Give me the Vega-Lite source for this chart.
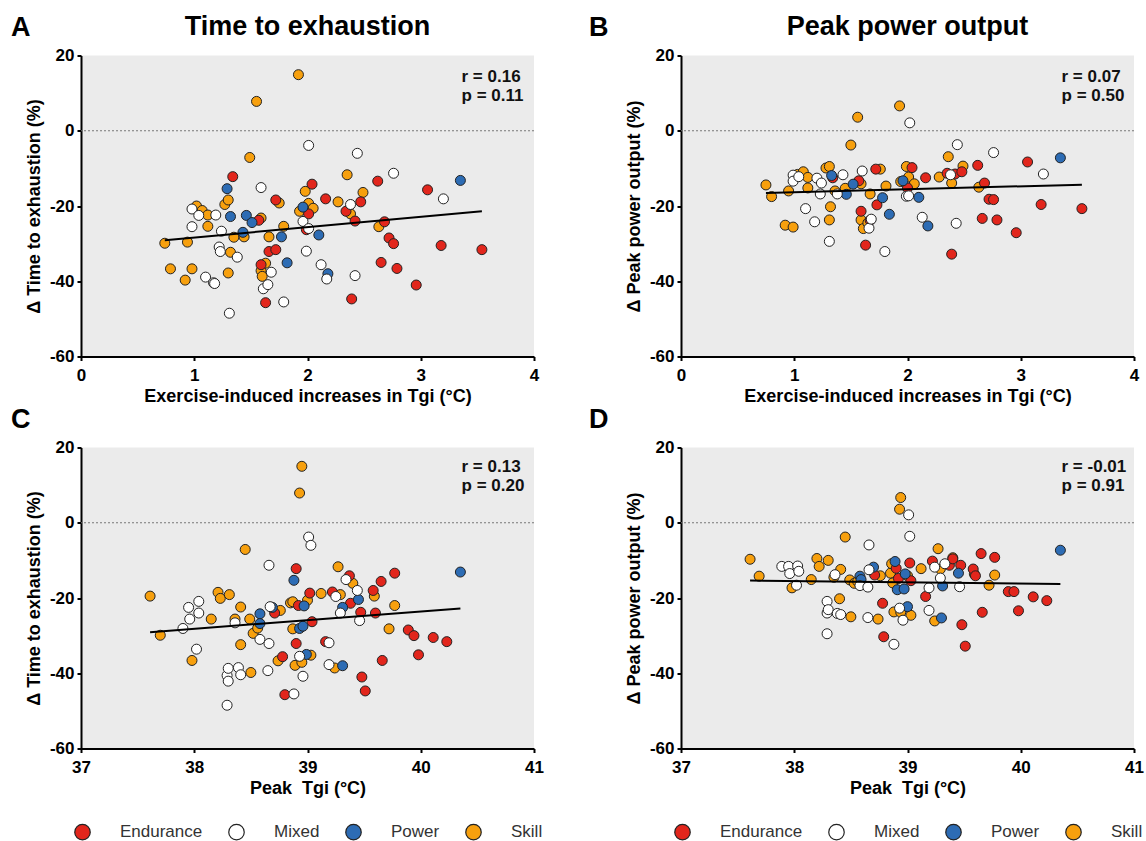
{
  "$schema": "https://vega.github.io/schema/vega-lite/v6.json",
  "background": "white",
  "padding": {"left": 11, "top": 12.5, "right": 12, "bottom": 2},
  "datasets": {
    "A": [
      {"sport": "Skill", "tgi_rise": 0.74, "tte_change": -29.9}, {"sport": "Skill", "tgi_rise": 0.79, "tte_change": -36.7}, {"sport": "Skill", "tgi_rise": 0.92, "tte_change": -39.7}, {"sport": "Skill", "tgi_rise": 0.94, "tte_change": -29.6}, {"sport": "Skill", "tgi_rise": 0.98, "tte_change": -36.7}, {"sport": "Skill", "tgi_rise": 1.02, "tte_change": -20.0}, {"sport": "Skill", "tgi_rise": 1.07, "tte_change": -21.2}, {"sport": "Skill", "tgi_rise": 1.12, "tte_change": -22.4}, {"sport": "Skill", "tgi_rise": 1.12, "tte_change": -25.4}, {"sport": "Skill", "tgi_rise": 1.27, "tte_change": -19.6}, {"sport": "Skill", "tgi_rise": 1.30, "tte_change": -18.4}, {"sport": "Skill", "tgi_rise": 1.30, "tte_change": -37.8}, {"sport": "Skill", "tgi_rise": 1.32, "tte_change": -32.3}, {"sport": "Skill", "tgi_rise": 1.35, "tte_change": -28.3}, {"sport": "Skill", "tgi_rise": 1.44, "tte_change": -28.2}, {"sport": "Skill", "tgi_rise": 1.49, "tte_change": -7.1}, {"sport": "Skill", "tgi_rise": 1.55, "tte_change": 7.8}, {"sport": "Skill", "tgi_rise": 1.59, "tte_change": -23.2}, {"sport": "Skill", "tgi_rise": 1.59, "tte_change": -37.2}, {"sport": "Skill", "tgi_rise": 1.60, "tte_change": -38.7}, {"sport": "Skill", "tgi_rise": 1.63, "tte_change": -35.2}, {"sport": "Skill", "tgi_rise": 1.66, "tte_change": -28.2}, {"sport": "Skill", "tgi_rise": 1.75, "tte_change": -19.2}, {"sport": "Skill", "tgi_rise": 1.79, "tte_change": -25.4}, {"sport": "Skill", "tgi_rise": 1.92, "tte_change": 14.9}, {"sport": "Skill", "tgi_rise": 1.93, "tte_change": -21.4}, {"sport": "Skill", "tgi_rise": 1.98, "tte_change": -16.1}, {"sport": "Skill", "tgi_rise": 2.01, "tte_change": -19.3}, {"sport": "Skill", "tgi_rise": 2.05, "tte_change": -20.6}, {"sport": "Skill", "tgi_rise": 2.27, "tte_change": -18.9}, {"sport": "Skill", "tgi_rise": 2.35, "tte_change": -11.7}, {"sport": "Skill", "tgi_rise": 2.38, "tte_change": -22.1}, {"sport": "Skill", "tgi_rise": 2.49, "tte_change": -16.4}, {"sport": "Skill", "tgi_rise": 2.63, "tte_change": -25.5},
      {"sport": "Endurance", "tgi_rise": 1.34, "tte_change": -12.2}, {"sport": "Endurance", "tgi_rise": 1.57, "tte_change": -23.8}, {"sport": "Endurance", "tgi_rise": 1.59, "tte_change": -35.6}, {"sport": "Endurance", "tgi_rise": 1.63, "tte_change": -45.7}, {"sport": "Endurance", "tgi_rise": 1.66, "tte_change": -32.1}, {"sport": "Endurance", "tgi_rise": 1.72, "tte_change": -31.6}, {"sport": "Endurance", "tgi_rise": 1.72, "tte_change": -18.4}, {"sport": "Endurance", "tgi_rise": 1.99, "tte_change": -26.3}, {"sport": "Endurance", "tgi_rise": 2.01, "tte_change": -22.1}, {"sport": "Endurance", "tgi_rise": 2.04, "tte_change": -14.2}, {"sport": "Endurance", "tgi_rise": 2.16, "tte_change": -18.1}, {"sport": "Endurance", "tgi_rise": 2.34, "tte_change": -21.4}, {"sport": "Endurance", "tgi_rise": 2.39, "tte_change": -44.7}, {"sport": "Endurance", "tgi_rise": 2.42, "tte_change": -24.0}, {"sport": "Endurance", "tgi_rise": 2.47, "tte_change": -18.9}, {"sport": "Endurance", "tgi_rise": 2.62, "tte_change": -13.4}, {"sport": "Endurance", "tgi_rise": 2.65, "tte_change": -35.0}, {"sport": "Endurance", "tgi_rise": 2.68, "tte_change": -24.2}, {"sport": "Endurance", "tgi_rise": 2.72, "tte_change": -28.5}, {"sport": "Endurance", "tgi_rise": 2.76, "tte_change": -30.0}, {"sport": "Endurance", "tgi_rise": 2.79, "tte_change": -36.6}, {"sport": "Endurance", "tgi_rise": 2.96, "tte_change": -41.0}, {"sport": "Endurance", "tgi_rise": 3.06, "tte_change": -15.7}, {"sport": "Endurance", "tgi_rise": 3.18, "tte_change": -30.5}, {"sport": "Endurance", "tgi_rise": 3.54, "tte_change": -31.6},
      {"sport": "Power", "tgi_rise": 1.29, "tte_change": -15.4}, {"sport": "Power", "tgi_rise": 1.32, "tte_change": -22.8}, {"sport": "Power", "tgi_rise": 1.43, "tte_change": -27.0}, {"sport": "Power", "tgi_rise": 1.46, "tte_change": -22.5}, {"sport": "Power", "tgi_rise": 1.51, "tte_change": -24.4}, {"sport": "Power", "tgi_rise": 1.77, "tte_change": -28.2}, {"sport": "Power", "tgi_rise": 1.82, "tte_change": -35.1}, {"sport": "Power", "tgi_rise": 1.96, "tte_change": -20.3}, {"sport": "Power", "tgi_rise": 2.10, "tte_change": -27.7}, {"sport": "Power", "tgi_rise": 2.18, "tte_change": -38.0}, {"sport": "Power", "tgi_rise": 3.35, "tte_change": -13.2},
      {"sport": "Mixed", "tgi_rise": 0.98, "tte_change": -20.8}, {"sport": "Mixed", "tgi_rise": 0.98, "tte_change": -25.5}, {"sport": "Mixed", "tgi_rise": 1.04, "tte_change": -22.5}, {"sport": "Mixed", "tgi_rise": 1.10, "tte_change": -38.9}, {"sport": "Mixed", "tgi_rise": 1.17, "tte_change": -40.4}, {"sport": "Mixed", "tgi_rise": 1.18, "tte_change": -40.6}, {"sport": "Mixed", "tgi_rise": 1.19, "tte_change": -22.4}, {"sport": "Mixed", "tgi_rise": 1.22, "tte_change": -30.9}, {"sport": "Mixed", "tgi_rise": 1.23, "tte_change": -32.1}, {"sport": "Mixed", "tgi_rise": 1.24, "tte_change": -26.7}, {"sport": "Mixed", "tgi_rise": 1.31, "tte_change": -48.5}, {"sport": "Mixed", "tgi_rise": 1.38, "tte_change": -33.6}, {"sport": "Mixed", "tgi_rise": 1.59, "tte_change": -15.1}, {"sport": "Mixed", "tgi_rise": 1.61, "tte_change": -42.0}, {"sport": "Mixed", "tgi_rise": 1.65, "tte_change": -40.9}, {"sport": "Mixed", "tgi_rise": 1.68, "tte_change": -37.6}, {"sport": "Mixed", "tgi_rise": 1.79, "tte_change": -45.5}, {"sport": "Mixed", "tgi_rise": 1.96, "tte_change": -24.1}, {"sport": "Mixed", "tgi_rise": 1.99, "tte_change": -32.0}, {"sport": "Mixed", "tgi_rise": 2.01, "tte_change": -3.9}, {"sport": "Mixed", "tgi_rise": 2.01, "tte_change": -26.0}, {"sport": "Mixed", "tgi_rise": 2.12, "tte_change": -35.6}, {"sport": "Mixed", "tgi_rise": 2.17, "tte_change": -39.4}, {"sport": "Mixed", "tgi_rise": 2.38, "tte_change": -19.6}, {"sport": "Mixed", "tgi_rise": 2.42, "tte_change": -38.5}, {"sport": "Mixed", "tgi_rise": 2.44, "tte_change": -6.0}, {"sport": "Mixed", "tgi_rise": 2.76, "tte_change": -11.3}, {"sport": "Mixed", "tgi_rise": 3.20, "tte_change": -18.1}
    ],
    "B": [
      {"sport": "Skill", "tgi_rise": 0.75, "ppo_change": -14.4}, {"sport": "Skill", "tgi_rise": 0.80, "ppo_change": -17.5}, {"sport": "Skill", "tgi_rise": 0.92, "ppo_change": -25.1}, {"sport": "Skill", "tgi_rise": 0.95, "ppo_change": -16.0}, {"sport": "Skill", "tgi_rise": 0.99, "ppo_change": -25.6}, {"sport": "Skill", "tgi_rise": 1.03, "ppo_change": -11.6}, {"sport": "Skill", "tgi_rise": 1.08, "ppo_change": -10.9}, {"sport": "Skill", "tgi_rise": 1.12, "ppo_change": -12.4}, {"sport": "Skill", "tgi_rise": 1.12, "ppo_change": -15.2}, {"sport": "Skill", "tgi_rise": 1.28, "ppo_change": -9.9}, {"sport": "Skill", "tgi_rise": 1.31, "ppo_change": -9.5}, {"sport": "Skill", "tgi_rise": 1.31, "ppo_change": -23.7}, {"sport": "Skill", "tgi_rise": 1.32, "ppo_change": -20.2}, {"sport": "Skill", "tgi_rise": 1.36, "ppo_change": -16.0}, {"sport": "Skill", "tgi_rise": 1.45, "ppo_change": -15.3}, {"sport": "Skill", "tgi_rise": 1.50, "ppo_change": -3.8}, {"sport": "Skill", "tgi_rise": 1.56, "ppo_change": 3.6}, {"sport": "Skill", "tgi_rise": 1.59, "ppo_change": -14.1}, {"sport": "Skill", "tgi_rise": 1.59, "ppo_change": -23.7}, {"sport": "Skill", "tgi_rise": 1.61, "ppo_change": -26.0}, {"sport": "Skill", "tgi_rise": 1.65, "ppo_change": -24.5}, {"sport": "Skill", "tgi_rise": 1.67, "ppo_change": -16.8}, {"sport": "Skill", "tgi_rise": 1.76, "ppo_change": -10.2}, {"sport": "Skill", "tgi_rise": 1.81, "ppo_change": -14.7}, {"sport": "Skill", "tgi_rise": 1.93, "ppo_change": 6.6}, {"sport": "Skill", "tgi_rise": 1.94, "ppo_change": -13.5}, {"sport": "Skill", "tgi_rise": 1.99, "ppo_change": -9.5}, {"sport": "Skill", "tgi_rise": 2.01, "ppo_change": -12.3}, {"sport": "Skill", "tgi_rise": 2.06, "ppo_change": -14.1}, {"sport": "Skill", "tgi_rise": 2.28, "ppo_change": -12.3}, {"sport": "Skill", "tgi_rise": 2.36, "ppo_change": -6.9}, {"sport": "Skill", "tgi_rise": 2.39, "ppo_change": -13.9}, {"sport": "Skill", "tgi_rise": 2.49, "ppo_change": -9.4}, {"sport": "Skill", "tgi_rise": 2.63, "ppo_change": -15.0},
      {"sport": "Endurance", "tgi_rise": 1.34, "ppo_change": -12.5}, {"sport": "Endurance", "tgi_rise": 1.57, "ppo_change": -13.3}, {"sport": "Endurance", "tgi_rise": 1.59, "ppo_change": -21.4}, {"sport": "Endurance", "tgi_rise": 1.63, "ppo_change": -30.4}, {"sport": "Endurance", "tgi_rise": 1.67, "ppo_change": -23.8}, {"sport": "Endurance", "tgi_rise": 1.72, "ppo_change": -10.2}, {"sport": "Endurance", "tgi_rise": 1.73, "ppo_change": -19.7}, {"sport": "Endurance", "tgi_rise": 2.00, "ppo_change": -15.2}, {"sport": "Endurance", "tgi_rise": 2.04, "ppo_change": -9.8}, {"sport": "Endurance", "tgi_rise": 2.16, "ppo_change": -12.5}, {"sport": "Endurance", "tgi_rise": 2.35, "ppo_change": -11.3}, {"sport": "Endurance", "tgi_rise": 2.39, "ppo_change": -32.8}, {"sport": "Endurance", "tgi_rise": 2.42, "ppo_change": -11.5}, {"sport": "Endurance", "tgi_rise": 2.48, "ppo_change": -10.9}, {"sport": "Endurance", "tgi_rise": 2.62, "ppo_change": -9.2}, {"sport": "Endurance", "tgi_rise": 2.66, "ppo_change": -23.3}, {"sport": "Endurance", "tgi_rise": 2.68, "ppo_change": -13.9}, {"sport": "Endurance", "tgi_rise": 2.72, "ppo_change": -18.2}, {"sport": "Endurance", "tgi_rise": 2.76, "ppo_change": -18.3}, {"sport": "Endurance", "tgi_rise": 2.79, "ppo_change": -23.7}, {"sport": "Endurance", "tgi_rise": 2.96, "ppo_change": -27.1}, {"sport": "Endurance", "tgi_rise": 3.06, "ppo_change": -8.3}, {"sport": "Endurance", "tgi_rise": 3.18, "ppo_change": -19.6}, {"sport": "Endurance", "tgi_rise": 3.54, "ppo_change": -20.7},
      {"sport": "Power", "tgi_rise": 1.33, "ppo_change": -11.9}, {"sport": "Power", "tgi_rise": 1.46, "ppo_change": -16.9}, {"sport": "Power", "tgi_rise": 1.52, "ppo_change": -14.2}, {"sport": "Power", "tgi_rise": 1.78, "ppo_change": -17.8}, {"sport": "Power", "tgi_rise": 1.84, "ppo_change": -22.2}, {"sport": "Power", "tgi_rise": 1.96, "ppo_change": -13.3}, {"sport": "Power", "tgi_rise": 2.10, "ppo_change": -17.7}, {"sport": "Power", "tgi_rise": 2.18, "ppo_change": -25.3}, {"sport": "Power", "tgi_rise": 3.35, "ppo_change": -7.2},
      {"sport": "Mixed", "tgi_rise": 0.99, "ppo_change": -11.8}, {"sport": "Mixed", "tgi_rise": 0.99, "ppo_change": -13.4}, {"sport": "Mixed", "tgi_rise": 1.04, "ppo_change": -12.2}, {"sport": "Mixed", "tgi_rise": 1.10, "ppo_change": -20.7}, {"sport": "Mixed", "tgi_rise": 1.18, "ppo_change": -24.2}, {"sport": "Mixed", "tgi_rise": 1.20, "ppo_change": -12.6}, {"sport": "Mixed", "tgi_rise": 1.23, "ppo_change": -16.8}, {"sport": "Mixed", "tgi_rise": 1.24, "ppo_change": -13.9}, {"sport": "Mixed", "tgi_rise": 1.31, "ppo_change": -29.4}, {"sport": "Mixed", "tgi_rise": 1.38, "ppo_change": -16.8}, {"sport": "Mixed", "tgi_rise": 1.43, "ppo_change": -11.7}, {"sport": "Mixed", "tgi_rise": 1.60, "ppo_change": -10.7}, {"sport": "Mixed", "tgi_rise": 1.66, "ppo_change": -25.9}, {"sport": "Mixed", "tgi_rise": 1.68, "ppo_change": -23.5}, {"sport": "Mixed", "tgi_rise": 1.80, "ppo_change": -32.1}, {"sport": "Mixed", "tgi_rise": 1.99, "ppo_change": -17.4}, {"sport": "Mixed", "tgi_rise": 2.01, "ppo_change": -17.3}, {"sport": "Mixed", "tgi_rise": 2.02, "ppo_change": 2.1}, {"sport": "Mixed", "tgi_rise": 2.13, "ppo_change": -23.0}, {"sport": "Mixed", "tgi_rise": 2.38, "ppo_change": -11.7}, {"sport": "Mixed", "tgi_rise": 2.43, "ppo_change": -24.6}, {"sport": "Mixed", "tgi_rise": 2.44, "ppo_change": -3.7}, {"sport": "Mixed", "tgi_rise": 2.76, "ppo_change": -5.8}, {"sport": "Mixed", "tgi_rise": 3.20, "ppo_change": -11.5}
    ],
    "C": [
      {"sport": "Skill", "peak_tgi": 37.61, "tte_change": -19.5}, {"sport": "Skill", "peak_tgi": 37.70, "tte_change": -29.9}, {"sport": "Skill", "peak_tgi": 37.98, "tte_change": -36.6}, {"sport": "Skill", "peak_tgi": 38.15, "tte_change": -25.6}, {"sport": "Skill", "peak_tgi": 38.21, "tte_change": -18.5}, {"sport": "Skill", "peak_tgi": 38.23, "tte_change": -20.1}, {"sport": "Skill", "peak_tgi": 38.31, "tte_change": -19.1}, {"sport": "Skill", "peak_tgi": 38.36, "tte_change": -25.6}, {"sport": "Skill", "peak_tgi": 38.41, "tte_change": -22.4}, {"sport": "Skill", "peak_tgi": 38.41, "tte_change": -32.4}, {"sport": "Skill", "peak_tgi": 38.45, "tte_change": -7.1}, {"sport": "Skill", "peak_tgi": 38.49, "tte_change": -25.6}, {"sport": "Skill", "peak_tgi": 38.50, "tte_change": -39.8}, {"sport": "Skill", "peak_tgi": 38.52, "tte_change": -29.4}, {"sport": "Skill", "peak_tgi": 38.56, "tte_change": -28.0}, {"sport": "Skill", "peak_tgi": 38.74, "tte_change": -36.7}, {"sport": "Skill", "peak_tgi": 38.76, "tte_change": -23.3}, {"sport": "Skill", "peak_tgi": 38.85, "tte_change": -21.3}, {"sport": "Skill", "peak_tgi": 38.87, "tte_change": -21.0}, {"sport": "Skill", "peak_tgi": 38.87, "tte_change": -28.2}, {"sport": "Skill", "peak_tgi": 38.89, "tte_change": -37.9}, {"sport": "Skill", "peak_tgi": 38.93, "tte_change": 7.9}, {"sport": "Skill", "peak_tgi": 38.95, "tte_change": 15.0}, {"sport": "Skill", "peak_tgi": 38.95, "tte_change": -37.1}, {"sport": "Skill", "peak_tgi": 39.00, "tte_change": -20.6}, {"sport": "Skill", "peak_tgi": 39.03, "tte_change": -35.2}, {"sport": "Skill", "peak_tgi": 39.12, "tte_change": -18.8}, {"sport": "Skill", "peak_tgi": 39.24, "tte_change": -38.6}, {"sport": "Skill", "peak_tgi": 39.27, "tte_change": -11.7}, {"sport": "Skill", "peak_tgi": 39.29, "tte_change": -19.1}, {"sport": "Skill", "peak_tgi": 39.40, "tte_change": -16.1}, {"sport": "Skill", "peak_tgi": 39.59, "tte_change": -19.5}, {"sport": "Skill", "peak_tgi": 39.72, "tte_change": -28.2}, {"sport": "Skill", "peak_tgi": 39.77, "tte_change": -22.0},
      {"sport": "Endurance", "peak_tgi": 38.71, "tte_change": -24.0}, {"sport": "Endurance", "peak_tgi": 38.78, "tte_change": -35.6}, {"sport": "Endurance", "peak_tgi": 38.80, "tte_change": -45.7}, {"sport": "Endurance", "peak_tgi": 38.90, "tte_change": -12.2}, {"sport": "Endurance", "peak_tgi": 38.90, "tte_change": -32.1}, {"sport": "Endurance", "peak_tgi": 38.92, "tte_change": -22.0}, {"sport": "Endurance", "peak_tgi": 39.02, "tte_change": -18.7}, {"sport": "Endurance", "peak_tgi": 39.04, "tte_change": -26.3}, {"sport": "Endurance", "peak_tgi": 39.16, "tte_change": -31.6}, {"sport": "Endurance", "peak_tgi": 39.22, "tte_change": -18.4}, {"sport": "Endurance", "peak_tgi": 39.37, "tte_change": -14.1}, {"sport": "Endurance", "peak_tgi": 39.38, "tte_change": -21.4}, {"sport": "Endurance", "peak_tgi": 39.47, "tte_change": -23.8}, {"sport": "Endurance", "peak_tgi": 39.48, "tte_change": -41.0}, {"sport": "Endurance", "peak_tgi": 39.51, "tte_change": -44.7}, {"sport": "Endurance", "peak_tgi": 39.58, "tte_change": -18.0}, {"sport": "Endurance", "peak_tgi": 39.60, "tte_change": -24.0}, {"sport": "Endurance", "peak_tgi": 39.65, "tte_change": -15.6}, {"sport": "Endurance", "peak_tgi": 39.66, "tte_change": -36.6}, {"sport": "Endurance", "peak_tgi": 39.77, "tte_change": -13.4}, {"sport": "Endurance", "peak_tgi": 39.89, "tte_change": -28.5}, {"sport": "Endurance", "peak_tgi": 39.94, "tte_change": -30.0}, {"sport": "Endurance", "peak_tgi": 39.98, "tte_change": -35.1}, {"sport": "Endurance", "peak_tgi": 40.11, "tte_change": -30.5}, {"sport": "Endurance", "peak_tgi": 40.23, "tte_change": -31.6},
      {"sport": "Power", "peak_tgi": 38.58, "tte_change": -24.2}, {"sport": "Power", "peak_tgi": 38.58, "tte_change": -26.8}, {"sport": "Power", "peak_tgi": 38.69, "tte_change": -22.5}, {"sport": "Power", "peak_tgi": 38.88, "tte_change": -15.3}, {"sport": "Power", "peak_tgi": 38.93, "tte_change": -28.1}, {"sport": "Power", "peak_tgi": 38.96, "tte_change": -27.5}, {"sport": "Power", "peak_tgi": 38.97, "tte_change": -22.1}, {"sport": "Power", "peak_tgi": 38.99, "tte_change": -35.0}, {"sport": "Power", "peak_tgi": 39.31, "tte_change": -22.5}, {"sport": "Power", "peak_tgi": 39.31, "tte_change": -38.0}, {"sport": "Power", "peak_tgi": 39.45, "tte_change": -20.4}, {"sport": "Power", "peak_tgi": 40.35, "tte_change": -13.1},
      {"sport": "Mixed", "peak_tgi": 37.90, "tte_change": -28.1}, {"sport": "Mixed", "peak_tgi": 37.95, "tte_change": -22.5}, {"sport": "Mixed", "peak_tgi": 37.96, "tte_change": -25.6}, {"sport": "Mixed", "peak_tgi": 38.02, "tte_change": -33.6}, {"sport": "Mixed", "peak_tgi": 38.04, "tte_change": -20.9}, {"sport": "Mixed", "peak_tgi": 38.04, "tte_change": -24.0}, {"sport": "Mixed", "peak_tgi": 38.29, "tte_change": -40.6}, {"sport": "Mixed", "peak_tgi": 38.29, "tte_change": -48.5}, {"sport": "Mixed", "peak_tgi": 38.30, "tte_change": -38.7}, {"sport": "Mixed", "peak_tgi": 38.30, "tte_change": -42.1}, {"sport": "Mixed", "peak_tgi": 38.36, "tte_change": -26.6}, {"sport": "Mixed", "peak_tgi": 38.39, "tte_change": -38.5}, {"sport": "Mixed", "peak_tgi": 38.41, "tte_change": -40.4}, {"sport": "Mixed", "peak_tgi": 38.58, "tte_change": -31.0}, {"sport": "Mixed", "peak_tgi": 38.65, "tte_change": -39.3}, {"sport": "Mixed", "peak_tgi": 38.66, "tte_change": -11.3}, {"sport": "Mixed", "peak_tgi": 38.66, "tte_change": -32.1}, {"sport": "Mixed", "peak_tgi": 38.67, "tte_change": -22.3}, {"sport": "Mixed", "peak_tgi": 38.88, "tte_change": -45.5}, {"sport": "Mixed", "peak_tgi": 38.93, "tte_change": -35.5}, {"sport": "Mixed", "peak_tgi": 38.96, "tte_change": -40.8}, {"sport": "Mixed", "peak_tgi": 39.01, "tte_change": -3.8}, {"sport": "Mixed", "peak_tgi": 39.03, "tte_change": -6.0}, {"sport": "Mixed", "peak_tgi": 39.19, "tte_change": -31.9}, {"sport": "Mixed", "peak_tgi": 39.19, "tte_change": -37.7}, {"sport": "Mixed", "peak_tgi": 39.25, "tte_change": -19.6}, {"sport": "Mixed", "peak_tgi": 39.29, "tte_change": -24.0}, {"sport": "Mixed", "peak_tgi": 39.34, "tte_change": -15.1}, {"sport": "Mixed", "peak_tgi": 39.44, "tte_change": -18.0}, {"sport": "Mixed", "peak_tgi": 39.46, "tte_change": -26.0}
    ],
    "D": [
      {"sport": "Skill", "peak_tgi": 37.61, "ppo_change": -9.7}, {"sport": "Skill", "peak_tgi": 37.69, "ppo_change": -14.2}, {"sport": "Skill", "peak_tgi": 37.98, "ppo_change": -17.3}, {"sport": "Skill", "peak_tgi": 38.15, "ppo_change": -15.1}, {"sport": "Skill", "peak_tgi": 38.20, "ppo_change": -9.5}, {"sport": "Skill", "peak_tgi": 38.22, "ppo_change": -11.6}, {"sport": "Skill", "peak_tgi": 38.30, "ppo_change": -10.0}, {"sport": "Skill", "peak_tgi": 38.35, "ppo_change": -14.5}, {"sport": "Skill", "peak_tgi": 38.40, "ppo_change": -20.2}, {"sport": "Skill", "peak_tgi": 38.41, "ppo_change": -12.4}, {"sport": "Skill", "peak_tgi": 38.45, "ppo_change": -3.8}, {"sport": "Skill", "peak_tgi": 38.49, "ppo_change": -15.2}, {"sport": "Skill", "peak_tgi": 38.50, "ppo_change": -25.0}, {"sport": "Skill", "peak_tgi": 38.53, "ppo_change": -16.1}, {"sport": "Skill", "peak_tgi": 38.56, "ppo_change": -15.6}, {"sport": "Skill", "peak_tgi": 38.74, "ppo_change": -25.6}, {"sport": "Skill", "peak_tgi": 38.76, "ppo_change": -14.1}, {"sport": "Skill", "peak_tgi": 38.85, "ppo_change": -13.4}, {"sport": "Skill", "peak_tgi": 38.86, "ppo_change": -10.9}, {"sport": "Skill", "peak_tgi": 38.87, "ppo_change": -16.0}, {"sport": "Skill", "peak_tgi": 38.88, "ppo_change": -23.7}, {"sport": "Skill", "peak_tgi": 38.93, "ppo_change": 3.6}, {"sport": "Skill", "peak_tgi": 38.94, "ppo_change": 6.7}, {"sport": "Skill", "peak_tgi": 38.94, "ppo_change": -23.8}, {"sport": "Skill", "peak_tgi": 39.00, "ppo_change": -14.1}, {"sport": "Skill", "peak_tgi": 39.03, "ppo_change": -24.6}, {"sport": "Skill", "peak_tgi": 39.12, "ppo_change": -12.2}, {"sport": "Skill", "peak_tgi": 39.24, "ppo_change": -26.1}, {"sport": "Skill", "peak_tgi": 39.27, "ppo_change": -6.9}, {"sport": "Skill", "peak_tgi": 39.29, "ppo_change": -12.3}, {"sport": "Skill", "peak_tgi": 39.40, "ppo_change": -9.3}, {"sport": "Skill", "peak_tgi": 39.59, "ppo_change": -13.6}, {"sport": "Skill", "peak_tgi": 39.72, "ppo_change": -16.6}, {"sport": "Skill", "peak_tgi": 39.77, "ppo_change": -13.9},
      {"sport": "Endurance", "peak_tgi": 38.71, "ppo_change": -13.9}, {"sport": "Endurance", "peak_tgi": 38.78, "ppo_change": -21.4}, {"sport": "Endurance", "peak_tgi": 38.79, "ppo_change": -30.3}, {"sport": "Endurance", "peak_tgi": 38.90, "ppo_change": -12.1}, {"sport": "Endurance", "peak_tgi": 38.92, "ppo_change": -14.8}, {"sport": "Endurance", "peak_tgi": 39.02, "ppo_change": -10.7}, {"sport": "Endurance", "peak_tgi": 39.03, "ppo_change": -15.4}, {"sport": "Endurance", "peak_tgi": 39.16, "ppo_change": -19.6}, {"sport": "Endurance", "peak_tgi": 39.22, "ppo_change": -10.2}, {"sport": "Endurance", "peak_tgi": 39.37, "ppo_change": -11.3}, {"sport": "Endurance", "peak_tgi": 39.40, "ppo_change": -9.6}, {"sport": "Endurance", "peak_tgi": 39.47, "ppo_change": -11.3}, {"sport": "Endurance", "peak_tgi": 39.48, "ppo_change": -27.1}, {"sport": "Endurance", "peak_tgi": 39.51, "ppo_change": -32.8}, {"sport": "Endurance", "peak_tgi": 39.58, "ppo_change": -12.3}, {"sport": "Endurance", "peak_tgi": 39.60, "ppo_change": -14.1}, {"sport": "Endurance", "peak_tgi": 39.65, "ppo_change": -8.2}, {"sport": "Endurance", "peak_tgi": 39.66, "ppo_change": -23.8}, {"sport": "Endurance", "peak_tgi": 39.77, "ppo_change": -9.2}, {"sport": "Endurance", "peak_tgi": 39.89, "ppo_change": -18.3}, {"sport": "Endurance", "peak_tgi": 39.94, "ppo_change": -18.3}, {"sport": "Endurance", "peak_tgi": 39.98, "ppo_change": -23.4}, {"sport": "Endurance", "peak_tgi": 40.11, "ppo_change": -19.7}, {"sport": "Endurance", "peak_tgi": 40.23, "ppo_change": -20.7},
      {"sport": "Power", "peak_tgi": 38.58, "ppo_change": -14.2}, {"sport": "Power", "peak_tgi": 38.59, "ppo_change": -15.1}, {"sport": "Power", "peak_tgi": 38.70, "ppo_change": -11.8}, {"sport": "Power", "peak_tgi": 38.89, "ppo_change": -10.3}, {"sport": "Power", "peak_tgi": 38.91, "ppo_change": -17.8}, {"sport": "Power", "peak_tgi": 38.97, "ppo_change": -17.6}, {"sport": "Power", "peak_tgi": 38.98, "ppo_change": -13.6}, {"sport": "Power", "peak_tgi": 39.00, "ppo_change": -22.3}, {"sport": "Power", "peak_tgi": 39.30, "ppo_change": -25.3}, {"sport": "Power", "peak_tgi": 39.31, "ppo_change": -16.8}, {"sport": "Power", "peak_tgi": 39.45, "ppo_change": -13.4}, {"sport": "Power", "peak_tgi": 40.35, "ppo_change": -7.3},
      {"sport": "Mixed", "peak_tgi": 37.89, "ppo_change": -11.6}, {"sport": "Mixed", "peak_tgi": 37.95, "ppo_change": -11.6}, {"sport": "Mixed", "peak_tgi": 37.96, "ppo_change": -13.5}, {"sport": "Mixed", "peak_tgi": 38.02, "ppo_change": -16.6}, {"sport": "Mixed", "peak_tgi": 38.03, "ppo_change": -11.5}, {"sport": "Mixed", "peak_tgi": 38.04, "ppo_change": -12.9}, {"sport": "Mixed", "peak_tgi": 38.29, "ppo_change": -20.9}, {"sport": "Mixed", "peak_tgi": 38.29, "ppo_change": -24.0}, {"sport": "Mixed", "peak_tgi": 38.29, "ppo_change": -29.5}, {"sport": "Mixed", "peak_tgi": 38.30, "ppo_change": -23.1}, {"sport": "Mixed", "peak_tgi": 38.36, "ppo_change": -13.8}, {"sport": "Mixed", "peak_tgi": 38.38, "ppo_change": -24.1}, {"sport": "Mixed", "peak_tgi": 38.41, "ppo_change": -24.4}, {"sport": "Mixed", "peak_tgi": 38.58, "ppo_change": -16.7}, {"sport": "Mixed", "peak_tgi": 38.65, "ppo_change": -17.1}, {"sport": "Mixed", "peak_tgi": 38.65, "ppo_change": -25.2}, {"sport": "Mixed", "peak_tgi": 38.66, "ppo_change": -5.9}, {"sport": "Mixed", "peak_tgi": 38.66, "ppo_change": -12.5}, {"sport": "Mixed", "peak_tgi": 38.88, "ppo_change": -32.3}, {"sport": "Mixed", "peak_tgi": 38.93, "ppo_change": -22.7}, {"sport": "Mixed", "peak_tgi": 38.96, "ppo_change": -25.9}, {"sport": "Mixed", "peak_tgi": 39.01, "ppo_change": 2.1}, {"sport": "Mixed", "peak_tgi": 39.02, "ppo_change": -3.6}, {"sport": "Mixed", "peak_tgi": 39.19, "ppo_change": -17.3}, {"sport": "Mixed", "peak_tgi": 39.19, "ppo_change": -23.3}, {"sport": "Mixed", "peak_tgi": 39.24, "ppo_change": -11.8}, {"sport": "Mixed", "peak_tgi": 39.29, "ppo_change": -14.7}, {"sport": "Mixed", "peak_tgi": 39.33, "ppo_change": -10.9}, {"sport": "Mixed", "peak_tgi": 39.46, "ppo_change": -17.0}
    ]
  },
  "hconcat": [
    {
      "title": {"text": "Time to exhaustion", "anchor": "middle", "frame": "group", "fontSize": 27, "fontWeight": "bold", "baseline": "alphabetic", "offset": 0, "dx": 226.5, "dy": 48, "color": "#000"},
      "bounds": "flush",
      "spacing": 91,
      "vconcat": [
        {
          "title": {"text": "A", "anchor": "start", "frame": "group", "dx": -70, "offset": -16, "baseline": "alphabetic", "fontSize": 27, "fontWeight": "bold", "color": "#000"},
          "width": 453, "height": 301,
          "data": {"name": "A"},
          "layer": [
            {"data": {"values": [{}]}, "mark": {"type": "rule", "strokeDash": [2, 2], "color": "#777", "strokeWidth": 1}, "encoding": {"y": {"datum": 0, "type": "quantitative"}}},
            {"mark": {"type": "circle", "size": 100, "stroke": "#222", "strokeWidth": 1, "opacity": 1},
             "encoding": {
               "x": {"field": "tgi_rise", "type": "quantitative", "scale": {"domain": [0, 4], "nice": false, "zero": false}, "axis": {"values": [0, 1, 2, 3, 4], "title": "Exercise-induced increases in Tgi (°C)"}},
               "y": {"field": "tte_change", "type": "quantitative", "scale": {"domain": [-60, 20], "nice": false, "zero": false}, "axis": {"values": [-60, -40, -20, 0, 20], "title": "Δ Time to exhaustion (%)"}},
               "fill": {"field": "sport", "type": "nominal", "scale": {"domain": ["Endurance", "Mixed", "Power", "Skill"], "range": ["#E2261C", "#FFFFFF", "#2D6CB4", "#F7A00E"]}, "legend": {"orient": "none", "legendX": -7, "legendY": 768, "direction": "horizontal", "title": null, "symbolType": "circle", "symbolSize": 240, "symbolStrokeColor": "#222", "symbolStrokeWidth": 1.2, "symbolOpacity": 1, "labelFontSize": 17, "labelColor": "#333", "labelOffset": 29, "columnPadding": 23}}
             }},
            {"transform": [{"regression": "tte_change", "on": "tgi_rise"}], "mark": {"type": "line", "color": "#000", "strokeWidth": 2}, "encoding": {"x": {"field": "tgi_rise", "type": "quantitative"}, "y": {"field": "tte_change", "type": "quantitative"}}},
            {"data": {"values": [{}]}, "mark": {"type": "text", "align": "left", "baseline": "alphabetic", "fontSize": 17, "fontWeight": "bold", "lineHeight": 19, "color": "#111"}, "encoding": {"x": {"datum": 3.36, "type": "quantitative"}, "y": {"datum": 12.9, "type": "quantitative"}, "text": {"value": ["r = 0.16", "p = 0.11"]}}}
          ]
        },
        {
          "title": {"text": "C", "anchor": "start", "frame": "group", "dx": -70, "offset": -16, "baseline": "alphabetic", "fontSize": 27, "fontWeight": "bold", "color": "#000"},
          "width": 453, "height": 301,
          "data": {"name": "C"},
          "layer": [
            {"data": {"values": [{}]}, "mark": {"type": "rule", "strokeDash": [2, 2], "color": "#777", "strokeWidth": 1}, "encoding": {"y": {"datum": 0, "type": "quantitative"}}},
            {"mark": {"type": "circle", "size": 100, "stroke": "#222", "strokeWidth": 1, "opacity": 1},
             "encoding": {
               "x": {"field": "peak_tgi", "type": "quantitative", "scale": {"domain": [37, 41], "nice": false, "zero": false}, "axis": {"values": [37, 38, 39, 40, 41], "title": "Peak\u00a0\u00a0Tgi (°C)"}},
               "y": {"field": "tte_change", "type": "quantitative", "scale": {"domain": [-60, 20], "nice": false, "zero": false}, "axis": {"values": [-60, -40, -20, 0, 20], "title": "Δ Time to exhaustion (%)"}},
               "fill": {"field": "sport", "type": "nominal", "scale": {"domain": ["Endurance", "Mixed", "Power", "Skill"], "range": ["#E2261C", "#FFFFFF", "#2D6CB4", "#F7A00E"]}, "legend": {"orient": "none", "legendX": -7, "legendY": 768, "direction": "horizontal", "title": null, "symbolType": "circle", "symbolSize": 240, "symbolStrokeColor": "#222", "symbolStrokeWidth": 1.2, "symbolOpacity": 1, "labelFontSize": 17, "labelColor": "#333", "labelOffset": 29, "columnPadding": 23}}
             }},
            {"transform": [{"regression": "tte_change", "on": "peak_tgi"}], "mark": {"type": "line", "color": "#000", "strokeWidth": 2}, "encoding": {"x": {"field": "peak_tgi", "type": "quantitative"}, "y": {"field": "tte_change", "type": "quantitative"}}},
            {"data": {"values": [{}]}, "mark": {"type": "text", "align": "left", "baseline": "alphabetic", "fontSize": 17, "fontWeight": "bold", "lineHeight": 19, "color": "#111"}, "encoding": {"x": {"datum": 40.36, "type": "quantitative"}, "y": {"datum": 13.6, "type": "quantitative"}, "text": {"value": ["r = 0.13", "p = 0.20"]}}}
          ]
        }
      ]
    },
    {
      "title": {"text": "Peak power output", "anchor": "middle", "frame": "group", "fontSize": 27, "fontWeight": "bold", "baseline": "alphabetic", "offset": 0, "dx": 226.5, "dy": 48, "color": "#000"},
      "bounds": "flush",
      "spacing": 91,
      "vconcat": [
        {
          "title": {"text": "B", "anchor": "start", "frame": "group", "dx": -92, "offset": -16, "baseline": "alphabetic", "fontSize": 27, "fontWeight": "bold", "color": "#000"},
          "width": 453, "height": 301,
          "data": {"name": "B"},
          "layer": [
            {"data": {"values": [{}]}, "mark": {"type": "rule", "strokeDash": [2, 2], "color": "#777", "strokeWidth": 1}, "encoding": {"y": {"datum": 0, "type": "quantitative"}}},
            {"mark": {"type": "circle", "size": 100, "stroke": "#222", "strokeWidth": 1, "opacity": 1},
             "encoding": {
               "x": {"field": "tgi_rise", "type": "quantitative", "scale": {"domain": [0, 4], "nice": false, "zero": false}, "axis": {"values": [0, 1, 2, 3, 4], "title": "Exercise-induced increases in Tgi (°C)"}},
               "y": {"field": "ppo_change", "type": "quantitative", "scale": {"domain": [-60, 20], "nice": false, "zero": false}, "axis": {"values": [-60, -40, -20, 0, 20], "title": "Δ Peak power output (%)"}},
               "fill": {"field": "sport", "type": "nominal", "scale": {"domain": ["Endurance", "Mixed", "Power", "Skill"], "range": ["#E2261C", "#FFFFFF", "#2D6CB4", "#F7A00E"]}, "legend": {"orient": "none", "legendX": -7, "legendY": 768, "direction": "horizontal", "title": null, "symbolType": "circle", "symbolSize": 240, "symbolStrokeColor": "#222", "symbolStrokeWidth": 1.2, "symbolOpacity": 1, "labelFontSize": 17, "labelColor": "#333", "labelOffset": 29, "columnPadding": 23}}
             }},
            {"transform": [{"regression": "ppo_change", "on": "tgi_rise"}], "mark": {"type": "line", "color": "#000", "strokeWidth": 2}, "encoding": {"x": {"field": "tgi_rise", "type": "quantitative"}, "y": {"field": "ppo_change", "type": "quantitative"}}},
            {"data": {"values": [{}]}, "mark": {"type": "text", "align": "left", "baseline": "alphabetic", "fontSize": 17, "fontWeight": "bold", "lineHeight": 19, "color": "#111"}, "encoding": {"x": {"datum": 3.36, "type": "quantitative"}, "y": {"datum": 12.9, "type": "quantitative"}, "text": {"value": ["r = 0.07", "p = 0.50"]}}}
          ]
        },
        {
          "title": {"text": "D", "anchor": "start", "frame": "group", "dx": -92, "offset": -16, "baseline": "alphabetic", "fontSize": 27, "fontWeight": "bold", "color": "#000"},
          "width": 453, "height": 301,
          "data": {"name": "D"},
          "layer": [
            {"data": {"values": [{}]}, "mark": {"type": "rule", "strokeDash": [2, 2], "color": "#777", "strokeWidth": 1}, "encoding": {"y": {"datum": 0, "type": "quantitative"}}},
            {"mark": {"type": "circle", "size": 100, "stroke": "#222", "strokeWidth": 1, "opacity": 1},
             "encoding": {
               "x": {"field": "peak_tgi", "type": "quantitative", "scale": {"domain": [37, 41], "nice": false, "zero": false}, "axis": {"values": [37, 38, 39, 40, 41], "title": "Peak\u00a0\u00a0Tgi (°C)"}},
               "y": {"field": "ppo_change", "type": "quantitative", "scale": {"domain": [-60, 20], "nice": false, "zero": false}, "axis": {"values": [-60, -40, -20, 0, 20], "title": "Δ Peak power output (%)"}},
               "fill": {"field": "sport", "type": "nominal", "scale": {"domain": ["Endurance", "Mixed", "Power", "Skill"], "range": ["#E2261C", "#FFFFFF", "#2D6CB4", "#F7A00E"]}, "legend": {"orient": "none", "legendX": -7, "legendY": 768, "direction": "horizontal", "title": null, "symbolType": "circle", "symbolSize": 240, "symbolStrokeColor": "#222", "symbolStrokeWidth": 1.2, "symbolOpacity": 1, "labelFontSize": 17, "labelColor": "#333", "labelOffset": 29, "columnPadding": 23}}
             }},
            {"transform": [{"regression": "ppo_change", "on": "peak_tgi"}], "mark": {"type": "line", "color": "#000", "strokeWidth": 2}, "encoding": {"x": {"field": "peak_tgi", "type": "quantitative"}, "y": {"field": "ppo_change", "type": "quantitative"}}},
            {"data": {"values": [{}]}, "mark": {"type": "text", "align": "left", "baseline": "alphabetic", "fontSize": 17, "fontWeight": "bold", "lineHeight": 19, "color": "#111"}, "encoding": {"x": {"datum": 40.36, "type": "quantitative"}, "y": {"datum": 13.6, "type": "quantitative"}, "text": {"value": ["r = -0.01", "p = 0.91"]}}}
          ]
        }
      ]
    }
  ],
  "bounds": "flush",
  "spacing": 600,
  "resolve": {"scale": {"fill": "independent"}},
  "config": {
    "font": "Liberation Sans",
    "view": {"fill": "#EBEBEB", "stroke": null},
    "axis": {"domainColor": "#000", "domainWidth": 2, "tickColor": "#000", "tickWidth": 2, "tickSize": 4, "grid": false, "labelFontSize": 17, "labelFontWeight": "bold", "labelColor": "#000", "labelPadding": 3, "labelFlush": false, "labelOverlap": false, "titleFontSize": 18, "titleFontWeight": "bold", "titleColor": "#000", "labelExpr": "datum.value < 0 ? '-' + abs(datum.value) : '' + datum.value"},
    "axisX": {"titlePadding": 4, "labelPadding": 7},
    "axisY": {"titlePadding": 6},
    "legend": {"labelFont": "Liberation Sans"},
    "title": {"font": "Liberation Sans"}
  }
}
